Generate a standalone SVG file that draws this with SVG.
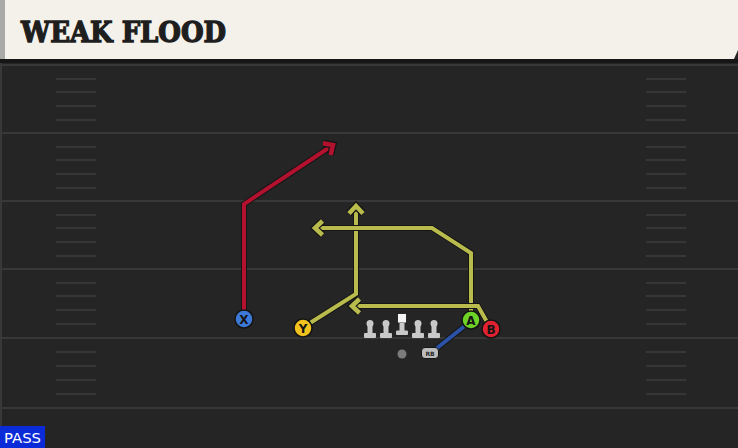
<svg xmlns="http://www.w3.org/2000/svg" width="738" height="448" viewBox="0 0 738 448">
  <style>
    .yard { stroke: #383838; stroke-width: 2; }
    .hash { stroke: #363636; stroke-width: 2; }
    .outline { fill: none; stroke: #151515; stroke-width: 6; stroke-linejoin: miter; }
    .red { fill: none; stroke: #b3122f; stroke-width: 4; stroke-linejoin: miter; }
    .yel { fill: none; stroke: #b9bb4c; stroke-width: 4; stroke-linejoin: miter; }
    .blue { fill: none; stroke: #2b52a6; stroke-width: 4; }
    .pc { stroke: #141414; stroke-width: 1.5; }
    .pl { font-family: "DejaVu Sans", "Liberation Sans", sans-serif; font-weight: bold; font-size: 12px; fill: #141414; text-anchor: middle; }
    .line { fill: #c9c9c9; }
  </style>
  <defs>
    <marker id="arrRed" markerUnits="userSpaceOnUse" markerWidth="30" markerHeight="30" refX="0" refY="0" orient="auto" overflow="visible" viewBox="-15 -15 30 30">
      <path d="M-7.5,-7 L0,0 L-7.5,7" fill="none" stroke="#151515" stroke-width="7"/>
      <path d="M-7.5,-7 L0,0 L-7.5,7" fill="none" stroke="#b3122f" stroke-width="4.5"/>
    </marker>
    <marker id="arrYel" markerUnits="userSpaceOnUse" markerWidth="30" markerHeight="30" refX="0" refY="0" orient="auto" overflow="visible" viewBox="-15 -15 30 30">
      <path d="M-7.5,-7 L0,0 L-7.5,7" fill="none" stroke="#151515" stroke-width="7"/>
      <path d="M-7.5,-7 L0,0 L-7.5,7" fill="none" stroke="#b9bb4c" stroke-width="4.5"/>
    </marker>
    <g id="lineman">
      <circle cx="0" cy="323.5" r="3.5"/>
      <rect x="-2.5" y="324" width="5" height="10"/>
      <rect x="-6" y="333" width="12" height="5" rx="1"/>
    </g>
  </defs>

  <!-- field -->
  <rect x="0" y="0" width="738" height="448" fill="#252525"/>
  <rect x="0" y="63" width="2" height="385" fill="#383838"/>
  <g id="yardlines">
    <line class="yard" x1="0" y1="65" x2="738" y2="65"/>
    <line class="yard" x1="0" y1="133" x2="738" y2="133"/>
    <line class="yard" x1="0" y1="201" x2="738" y2="201"/>
    <line class="yard" x1="0" y1="269" x2="738" y2="269"/>
    <line class="yard" x1="0" y1="338" x2="738" y2="338"/>
    <line class="yard" x1="0" y1="408" x2="738" y2="408"/>
  </g>
  <g id="hashes">
    <path class="hash" d="M56,79H96M56,92H96M56,106H96M56,120H96M56,147H96M56,160H96M56,174H96M56,188H96M56,215H96M56,228H96M56,242H96M56,256H96M56,283H96M56,296H96M56,310H96M56,324H96M56,352H96M56,366H96M56,380H96M56,394H96"/>
    <path class="hash" d="M646,79H686M646,92H686M646,106H686M646,120H686M646,147H686M646,160H686M646,174H686M646,188H686M646,215H686M646,228H686M646,242H686M646,256H686M646,283H686M646,296H686M646,310H686M646,324H686M646,352H686M646,366H686M646,380H686M646,394H686"/>
  </g>

  <!-- header -->
  <g id="header">
    <rect x="0" y="59" width="738" height="4" fill="#161616"/>
    <polygon points="0,0 738,0 738,50 734,59 0,59" fill="#f4f1ea"/>
    <rect x="0" y="0" width="5" height="59" fill="#a9aaa8"/>
    <text x="21" y="42" font-family="DejaVu Serif, Liberation Serif, serif" font-weight="bold" font-size="27" fill="#1e1e1e" stroke="#1e1e1e" stroke-width="1.3" textLength="205" lengthAdjust="spacingAndGlyphs">WEAK FLOOD</text>
  </g>

  <!-- connectors / routes -->
  <g id="connectors">
    <path class="outline" d="M244,311 L244,204 L333,145"/>
    <path class="red" d="M244,311 L244,204 L333,145" marker-end="url(#arrRed)"/>
    <path class="outline" d="M310,323 L356,294 L356,206"/>
    <path class="yel" d="M310,323 L356,294 L356,206" marker-end="url(#arrYel)"/>
    <path class="outline" d="M471,312 L471,253 L432,228 L315,228"/>
    <path class="yel" d="M471,312 L471,253 L432,228 L315,228" marker-end="url(#arrYel)"/>
    <path class="outline" d="M487,322 L478,306 L352,306"/>
    <path class="yel" d="M487,322 L478,306 L352,306" marker-end="url(#arrYel)"/>
    <line x1="432" y1="352" x2="466" y2="325" stroke="#151515" stroke-width="6"/>
    <line class="blue" x1="432" y1="352" x2="466" y2="325"/>
  </g>

  <!-- players -->
  <g id="X">
    <circle class="pc" cx="244" cy="319" r="9" fill="#3d7ad8"/>
    <text class="pl" x="244" y="323.5">X</text>
  </g>
  <g id="Y">
    <circle class="pc" cx="303" cy="328" r="9" fill="#f2c21e"/>
    <text class="pl" x="303" y="332.5">Y</text>
  </g>
  <g id="A">
    <circle class="pc" cx="471" cy="320" r="9" fill="#6fd226"/>
    <text class="pl" x="471" y="324.5">A</text>
  </g>
  <g id="B">
    <circle class="pc" cx="491" cy="329" r="9" fill="#e0212f"/>
    <text class="pl" x="491" y="333.5">B</text>
  </g>
  <g id="LT"><use href="#lineman" x="370" class="line"/></g>
  <g id="LG"><use href="#lineman" x="386" class="line"/></g>
  <g id="C">
    <rect x="397.5" y="313.5" width="9" height="9.5" fill="#f4f4f4" stroke="#151515" stroke-width="0.8"/>
    <rect x="399.5" y="323" width="5" height="8" fill="#c9c9c9"/>
    <rect x="396" y="330.5" width="12" height="4.5" rx="1" fill="#c9c9c9"/>
  </g>
  <g id="RG"><use href="#lineman" x="418" class="line"/></g>
  <g id="RT"><use href="#lineman" x="434" class="line"/></g>
  <g id="QB">
    <circle cx="402" cy="354" r="4.5" fill="#7c7c7c"/>
  </g>
  <g id="RB">
    <rect x="421.5" y="347.5" width="17" height="11" rx="3.5" fill="#bdbdbd" stroke="#141414" stroke-width="1"/>
    <text x="430" y="355.5" font-family="DejaVu Sans, Liberation Sans, sans-serif" font-size="6" font-weight="bold" fill="#2a2a2a" text-anchor="middle">RB</text>
  </g>

  <!-- play type badge -->
  <g id="pass">
    <rect x="0" y="426" width="45" height="22" fill="#0b2bd8"/>
    <text x="4" y="443" font-family="DejaVu Sans, Liberation Sans, sans-serif" font-size="13.5" fill="#ffffff" textLength="37" lengthAdjust="spacingAndGlyphs">PASS</text>
  </g>
</svg>
